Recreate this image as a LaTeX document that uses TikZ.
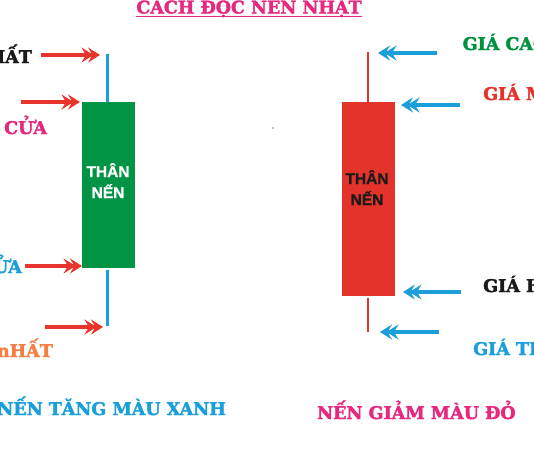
\documentclass[tikz,border=0pt]{standalone}
\usepackage{fontspec}
\setmainfont{DejaVu Serif}
\newfontfamily\lblfont{DejaVu Serif Bold}[FakeBold=2.2]
\newfontfamily\bodyfont{Liberation Sans Bold}[FakeBold=1.2]
\usetikzlibrary{arrows.meta}
\definecolor{arrred}{HTML}{E8342C}
\definecolor{arrblue}{HTML}{1A9FDB}
\definecolor{candgreen}{HTML}{009444}
\definecolor{candred}{HTML}{E4332B}
\definecolor{txtpink}{HTML}{E6287F}
\definecolor{txtorange}{HTML}{F47F45}
\definecolor{txtgreen}{HTML}{00923F}
\definecolor{txtblack}{HTML}{1A1A1A}
\tikzset{
  lbl/.style={font=\lblfont\fontsize{17.5}{20}\selectfont, inner sep=0pt},
  bodytxt/.style={font=\bodyfont\fontsize{15.5}{17}\selectfont, inner sep=0pt, anchor=base},
  dbl/.style={line width=3.3pt, -{Stealth[length=12pt,width=15pt,inset=4.5pt,sep=-5.5pt]Stealth[length=12pt,width=15pt,inset=4.5pt]}},
  redarrow/.style={dbl, draw=arrred, color=arrred},
  bluearrow/.style={dbl, draw=arrblue, color=arrblue},
  wick/.style={line width=2.5pt},
  candle/.style={inner sep=0pt, outer sep=0pt, minimum width=53pt}
}
\begin{document}
\begin{tikzpicture}[x=1pt,y=-1pt]
\useasboundingbox (0,0) rectangle (534,450);
\clip (0,0) rectangle (534,450);
% title
\node[lbl, anchor=base, text=txtpink] (title) at (249,13.5) {CÁCH ĐỌC NẾN NHẬT};
\draw[txtpink, line width=1.6pt] ([yshift=-3pt]title.base west) -- ([yshift=-3pt]title.base east);
% green candle
\coordinate (gwt1) at (107.5,54);
\coordinate (gwt2) at (107.5,110);
\coordinate (gwb1) at (107.5,270);
\coordinate (gwb2) at (107.5,326);
\draw[wick, arrblue] (gwt1) -- (gwt2);
\draw[wick, arrblue] (gwb1) -- (gwb2);
\node[candle, fill=candgreen, minimum height=166pt] (gbody) at (108,185) {};
\node[bodytxt, text=white] (gt1) at (108,177) {THÂN};
\node[bodytxt, text=white] (gt2) at (108,198) {NẾN};
% red candle
\coordinate (rwt1) at (368,52);
\coordinate (rwt2) at (368,102);
\coordinate (rwb1) at (368,298);
\coordinate (rwb2) at (368,332);
\draw[wick, candred] (rwt1) -- (rwt2);
\draw[wick, candred] (rwb1) -- (rwb2);
\node[candle, fill=candred, minimum height=194pt] (rbody) at (368.5,198.5) {};
\node[bodytxt, text=txtblack] (rt1) at (367,184) {THÂN};
\node[bodytxt, text=txtblack] (rt2) at (367,205) {NẾN};
% left arrows
\coordinate (a1s) at (41,55);   \coordinate (a1e) at (100,55);
\coordinate (a2s) at (21,102);  \coordinate (a2e) at (80,102);
\coordinate (a3s) at (25,266);  \coordinate (a3e) at (82,266);
\coordinate (a4s) at (45,327);  \coordinate (a4e) at (103,327);
\draw[redarrow] (a1s) -- (a1e);
\draw[redarrow] (a2s) -- (a2e);
\draw[redarrow] (a3s) -- (a3e);
\draw[redarrow] (a4s) -- (a4e);
% right arrows
\coordinate (b1s) at (437,53);   \coordinate (b1e) at (378,53);
\coordinate (b2s) at (460,105);  \coordinate (b2e) at (401,105);
\coordinate (b3s) at (461,292);  \coordinate (b3e) at (403,292);
\coordinate (b4s) at (439,332);  \coordinate (b4e) at (380,332);
\draw[bluearrow] (b1s) -- (b1e);
\draw[bluearrow] (b2s) -- (b2e);
\draw[bluearrow] (b3s) -- (b3e);
\draw[bluearrow] (b4s) -- (b4e);
% left labels
\node[lbl, anchor=base east, text=txtblack] (l1) at (32,63) {HẤT};
\node[lbl, anchor=base west, text=txtpink] (l2) at (4,134) {CỬA};
\node[lbl, anchor=base east, text=arrblue] (l3) at (22,273) {ỬA};
\node[lbl, anchor=base east, text=txtorange] (l4) at (53,357) {nHẤT};
% right labels
\node[lbl, anchor=base west, text=txtgreen] (r1) at (462.5,50) {GIÁ CAO};
\node[lbl, anchor=base west, text=candred] (r2) at (483,100) {GIÁ M};
\node[lbl, anchor=base west, text=txtblack] (r3) at (483,292) {GIÁ H};
\node[lbl, anchor=base west, text=arrblue] (r4) at (473,355) {GIÁ TH};
% bottom captions
\node[lbl, anchor=base east, text=arrblue] (c1) at (226,415) {NẾN TĂNG MÀU XANH};
\node[lbl, anchor=base west, text=txtpink] (c2) at (317,419) {NẾN GIẢM MÀU ĐỎ};
% stray dot
\fill[black] (273,128) circle (0.7pt);
\end{tikzpicture}
\end{document}
